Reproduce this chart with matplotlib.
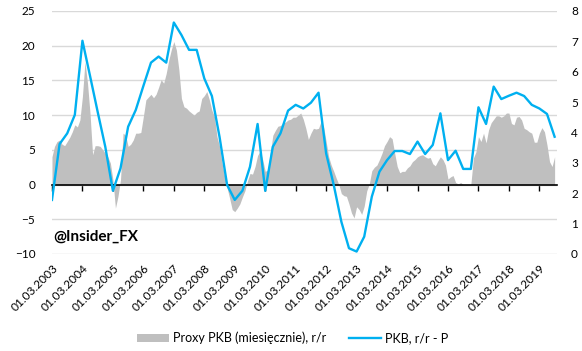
import numpy as np
import matplotlib
matplotlib.use("Agg")
import matplotlib.pyplot as plt
from matplotlib.patches import Patch
from matplotlib.lines import Line2D

plt.rcParams['font.family'] = ['Lato', 'DejaVu Sans']

# Proxy PKB (monthly, y/y, left axis), 2003-03 .. 2019-09
proxy_pkb = [
    4.0, 5.5, 6.2, 6.4, 5.8, 5.6, 6.2, 6.8, 7.6, 8.6, 8.3, 9.3,
    12.7, 17.7, 14.6, 10.2, 4.3, 5.6, 5.6, 5.5, 5.0, 4.5, 4.0, 3.1,
    0.7, -3.4, -1.7, 0.7, 7.4, 7.1, 5.5, 5.8, 6.4, 7.4, 7.4, 7.5,
    9.8, 12.2, 12.6, 13.0, 12.5, 13.0, 14.0, 15.1, 14.6, 16.0, 17.9, 19.4,
    20.6, 19.4, 16.5, 12.4, 11.2, 11.0, 10.6, 10.3, 10.0, 10.4, 10.6, 12.4,
    12.8, 13.4, 12.2, 10.7, 9.8, 6.9, 5.5, 3.1, 1.2, -0.5, -2.0, -3.6,
    -3.9, -3.4, -2.8, -1.8, -0.9, 0.5, 1.6, 1.5, 2.6, 4.2, 4.8, 3.6,
    1.9, 2.1, 4.5, 7.1, 7.8, 8.4, 8.5, 8.8, 9.0, 9.3, 9.4, 9.7,
    9.7, 10.0, 10.3, 9.4, 8.1, 6.5, 7.4, 8.1, 8.0, 8.1, 9.1, 8.3,
    6.2, 4.0, 2.8, 1.9, 0.9, 0.0, -1.3, -1.6, -1.7, -2.8, -4.1, -4.8,
    -3.2, -3.6, -4.3, -3.1, -0.9, 0.1, 2.0, 2.5, 2.8, 3.6, 4.5, 5.6,
    6.2, 6.9, 6.6, 4.5, 2.6, 1.7, 1.9, 1.9, 2.4, 2.7, 3.3, 3.6,
    4.0, 4.2, 4.3, 4.0, 3.8, 3.9, 3.0, 2.7, 3.4, 4.0, 3.6, 2.8,
    0.8, 1.1, 1.3, 0.3, 0.1, 0.3, 0.0, 0.0, 0.0, 0.0, 3.8, 4.7,
    6.9, 6.2, 7.4, 6.0, 7.9, 8.9, 9.4, 9.9, 9.9, 9.7, 9.9, 10.3,
    10.3, 8.8, 8.6, 9.7, 9.8, 9.3, 8.1, 7.9, 7.6, 7.4, 6.1, 6.1,
    7.4, 8.2, 7.6, 5.7, 3.3, 2.6, 4.0,
]

# PKB y/y (quarterly, right axis), 2003Q1 .. 2019Q3
pkb = [
    1.78, 3.62, 3.97, 4.58, 7.02, 5.86, 4.68, 3.53, 2.08, 2.82, 4.19, 4.74,
    5.53, 6.30, 6.50, 6.30, 7.62, 7.21, 6.72, 6.72, 5.78, 5.20, 3.86, 2.27,
    1.78, 2.08, 2.87, 4.28, 2.08, 3.53, 3.97, 4.72, 4.91, 4.79, 4.98, 5.31,
    3.31, 2.27, 1.06, 0.19, 0.08, 0.57, 1.89, 2.71, 3.09, 3.39, 3.39, 3.29,
    3.70, 3.29, 3.59, 4.63, 3.09, 3.40, 2.80, 2.80, 4.83, 4.28, 5.51, 5.10,
    5.21, 5.31, 5.20, 4.91, 4.79, 4.61, 3.86,
]

years = list(range(2003, 2020))
tick_labels = [f"01.03.{y}" for y in years]

months = np.arange(len(proxy_pkb))
quarters = np.arange(len(pkb)) * 3
tick_pos = np.arange(len(years)) * 12

GREY = '#bfbfbf'
BLUE = '#00b0f0'

fig = plt.figure(figsize=(5.82, 3.51), dpi=100)
ax = fig.add_axes([0.0893, 0.2764, 0.868, 0.6923])

ax.fill_between(months, proxy_pkb, 0, color=GREY, linewidth=0)
ax.set_ylim(-10, 25)
ax.set_yticks(range(-10, 26, 5))
ax.set_xlim(0, 199)
ax.grid(axis='y', color='#d9d9d9', linewidth=1)
ax.set_axisbelow(True)
for s in ['top', 'right', 'left']:
    ax.spines[s].set_visible(False)
ax.spines['bottom'].set_position(('data', 0))
ax.spines['bottom'].set_color('black')
ax.spines['bottom'].set_linewidth(1.2)
ax.set_xticks(tick_pos)
ax.tick_params(axis='x', direction='out', length=4, width=1, labelbottom=False)
ax.tick_params(axis='y', length=0, labelsize=8.5, pad=12)

# date labels at the bottom of the plot area
sec = ax.secondary_xaxis('bottom')
sec.set_xticks(tick_pos)
sec.set_xticklabels(tick_labels, rotation=45, ha='right', rotation_mode='anchor', fontsize=8.6)
sec.tick_params(length=0, pad=6)
sec.spines['bottom'].set_visible(False)

ax2 = ax.twinx()
ax2.plot(quarters, pkb, color=BLUE, linewidth=1.7)
ax2.set_ylim(0, 8)
ax2.set_yticks(range(0, 9))
for s in ['top', 'right', 'left', 'bottom']:
    ax2.spines[s].set_visible(False)
ax2.tick_params(axis='y', length=0, labelsize=8.5, pad=10)

ax.text(0.002, 0.07, '@Insider_FX', transform=ax.transAxes, fontsize=11,
        fontweight='bold', ha='left', va='center')

handles = [Patch(facecolor=GREY, edgecolor='none'),
           Line2D([0], [0], color=BLUE, linewidth=1.7)]
fig.legend(handles, ['Proxy PKB (miesięcznie), r/r', 'PKB, r/r - P'],
           loc='center', bbox_to_anchor=(0.503, 0.037), ncol=2, frameon=False,
           fontsize=9, handlelength=2.6, handletextpad=0.3, columnspacing=1.8)

fig.savefig('out.png', dpi=100, facecolor='white')
